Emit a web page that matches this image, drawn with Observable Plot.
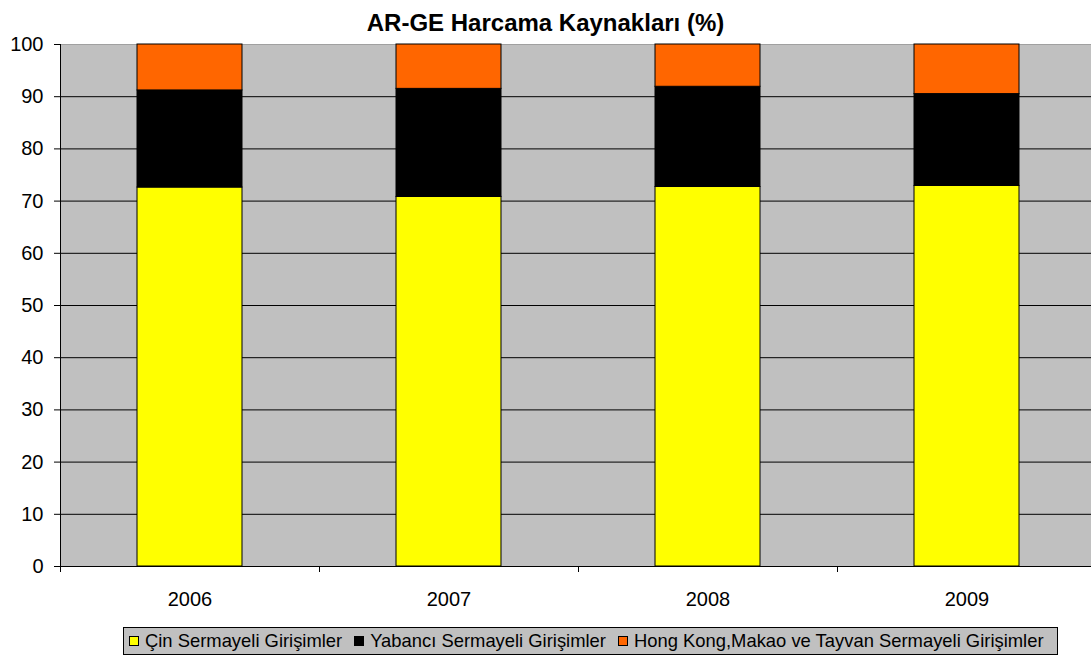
<!DOCTYPE html>
<html>
<head>
<meta charset="utf-8">
<script src="https://cdn.jsdelivr.net/npm/d3@7"></script>
<script src="https://cdn.jsdelivr.net/npm/@observablehq/plot@0.6"></script>
<style>
  html, body { margin: 0; padding: 0; background: #fff; }
  body { width: 1091px; height: 656px; overflow: hidden; font-family: "Liberation Sans", Arial, sans-serif; }
  #title { box-sizing: border-box; height: 34px; padding-top: 11px; line-height: 24px; font-size: 24px; font-weight: bold; text-align: center; color: #000; }
  #chart svg { display: block; overflow: hidden; }
  #legend { box-sizing: border-box; margin-top: 11px; margin-left: 123px; width: 935px; height: 28px; border: 1px solid #000; background: #c0c0c0; display: flex; align-items: center; padding-left: 5px; font-size: 18.4px; color: #000; white-space: nowrap; overflow: hidden; }
  .item { display: flex; align-items: center; margin-right: 12px; }
  .sw { width: 8px; height: 8px; border: 1px solid #000; margin-right: 6px; }
</style>
</head>
<body>
<div id="title">AR-GE Harcama Kaynakları (%)</div>
<div id="chart"></div>
<div id="legend"></div>
<script>
const years = ["2006", "2007", "2008", "2009"];
const seriesNames = ["Çin Sermayeli Girişimler", "Yabancı Sermayeli Girişimler", "Hong Kong,Makao ve Tayvan Sermayeli Girişimler"];
const seriesColors = ["#ffff00", "#000000", "#ff6600"];
const cinValues = [72.6, 70.8, 72.7, 72.9];
const yabanciValues = [18.6, 20.7, 19.2, 17.6];
const hongKongValues = [8.8, 8.5, 8.1, 9.5];
const yTicks = [0, 10, 20, 30, 40, 50, 60, 70, 80, 90, 100];

const seriesValues = [cinValues, yabanciValues, hongKongValues];
const data = [];
seriesNames.forEach((s, si) => years.forEach((y, yi) => data.push({year: y, series: s, value: seriesValues[si][yi]})));

const W = 1091, H = 582;
const xRange = [60, 1096];
const step = (xRange[1] - xRange[0]) / years.length;
const barInset = 77;

const chart = Plot.plot({
  width: W,
  height: H,
  marginTop: 10,
  marginBottom: 50,
  marginLeft: 60,
  marginRight: 0,
  style: {fontFamily: "'Liberation Sans', Arial, sans-serif", fontSize: "20px", color: "#000", background: "#fff"},
  x: {type: "band", domain: years, range: xRange, padding: 0, label: null},
  y: {domain: [0, 100], label: null},
  color: {domain: seriesNames, range: seriesColors},
  marks: [
    Plot.frame({fill: "#c0c0c0", stroke: null}),
    Plot.ruleY(yTicks.filter(d => d > 0 && d < 100), {stroke: "#000", strokeWidth: 1}),
    Plot.ruleY([100], {stroke: "#a0a0a0", strokeWidth: 1}),
    Plot.barY(data, Plot.stackY({order: null}, {
      x: "year", y: "value", z: "series", fill: "series",
      stroke: "#000", strokeWidth: 1, insetLeft: barInset, insetRight: barInset
    })),
    Plot.ruleY([0], {stroke: "#000", strokeWidth: 1}),
    Plot.ruleX(years.slice(0, 1), {x: d => d, y1: 0, y2: 100, dx: -step / 2, stroke: "#000"}),
    Plot.ruleX(years, {x: d => d, y1: 0, y2: 0, insetTop: 6, dx: -step / 2, stroke: "#000"}),
    Plot.axisY({ticks: yTicks, tickSize: 6, tickPadding: 11, tickFormat: d => String(d), fontSize: 20, stroke: "#000", label: null}),
    Plot.axisX({tickSize: 0, tickPadding: 25, fontSize: 20, label: null})
  ]
});
document.getElementById("chart").appendChild(chart);

const legend = document.getElementById("legend");
seriesNames.forEach((s, i) => {
  const item = document.createElement("div");
  item.className = "item";
  const sw = document.createElement("div");
  sw.className = "sw";
  sw.style.background = seriesColors[i];
  const t = document.createElement("span");
  t.textContent = s;
  item.appendChild(sw);
  item.appendChild(t);
  legend.appendChild(item);
});
</script>
</body>
</html>
